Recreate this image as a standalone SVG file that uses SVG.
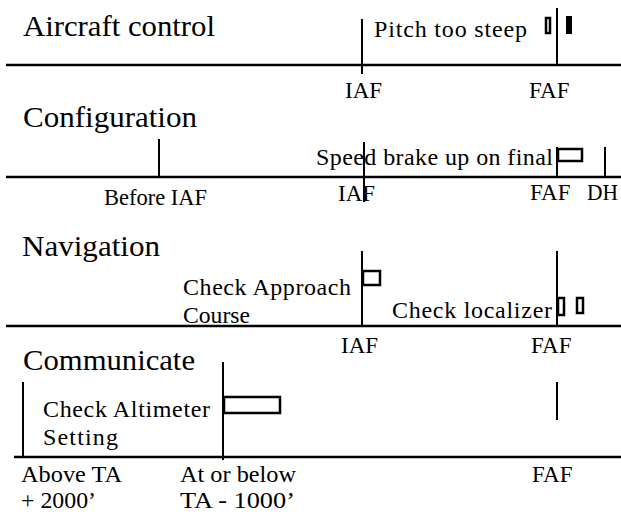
<svg xmlns="http://www.w3.org/2000/svg" width="621" height="516" viewBox="0 0 621 516">
<style>
  text { font-family: "Liberation Serif", "Times New Roman", serif; fill: #000; }
  .title { font-size: 30px; }
  .lbl { font-size: 23px; }
  .note { font-size: 24px; }
  .axis { stroke: #000; stroke-width: 2.5; fill: none; }
  .tick { stroke: #000; stroke-width: 2; fill: none; }
  .box { stroke: #000; stroke-width: 2.5; fill: #fff; }
  .solid { fill: #000; stroke: none; }
</style>
<rect width="621" height="516" fill="#fff"/>

<g id="panel-aircraft-control">
  <text class="title" x="23" y="36" textLength="192" lengthAdjust="spacingAndGlyphs">Aircraft control</text>
  <text class="note" x="374" y="37" textLength="153" lengthAdjust="spacing">Pitch too steep</text>
  <rect class="box" x="546" y="18" width="4" height="15"/>
  <rect class="solid" x="566" y="16" width="6" height="18"/>
  <text class="lbl" x="345" y="98">IAF</text>
  <text class="lbl" x="529" y="98">FAF</text>
</g>

<g id="panel-configuration">
  <text class="title" x="23" y="127" textLength="174" lengthAdjust="spacingAndGlyphs">Configuration</text>
  <text class="note" x="316" y="165" textLength="237" lengthAdjust="spacing">Speed brake up on final</text>
  <rect class="box" x="558" y="149" width="24" height="12"/>
  <text class="lbl" x="104" y="205" textLength="103" lengthAdjust="spacingAndGlyphs">Before IAF</text>
  <text class="lbl" x="338" y="201">IAF</text>
  <text class="lbl" x="530" y="200">FAF</text>
  <text class="lbl" x="587" y="200" textLength="31" lengthAdjust="spacingAndGlyphs">DH</text>
</g>

<g id="panel-navigation">
  <text class="title" x="22" y="256" textLength="138" lengthAdjust="spacingAndGlyphs">Navigation</text>
  <rect class="box" x="363" y="271" width="17" height="14"/>
  <text class="note" x="183" y="295" textLength="168" lengthAdjust="spacing">Check Approach</text>
  <text class="note" x="183" y="323" textLength="67" lengthAdjust="spacingAndGlyphs">Course</text>
  <text class="note" x="392" y="318" textLength="160" lengthAdjust="spacing">Check localizer</text>
  <rect class="box" x="558" y="298" width="6" height="17"/>
  <rect class="box" x="577" y="298" width="6" height="15"/>
  <text class="lbl" x="341" y="353">IAF</text>
  <text class="lbl" x="531" y="353">FAF</text>
</g>

<g id="panel-communicate">
  <text class="title" x="23" y="370" textLength="172" lengthAdjust="spacingAndGlyphs">Communicate</text>
  <text class="note" x="43" y="417" textLength="167" lengthAdjust="spacing">Check Altimeter</text>
  <text class="note" x="43" y="445" textLength="75" lengthAdjust="spacing">Setting</text>
  <rect class="box" x="224" y="397" width="56" height="16"/>
  <text class="lbl" x="21" y="482" textLength="101" lengthAdjust="spacingAndGlyphs">Above TA</text>
  <text class="lbl" x="21" y="508" textLength="75" lengthAdjust="spacingAndGlyphs">+ 2000’</text>
  <text class="lbl" x="180" y="482" textLength="116" lengthAdjust="spacingAndGlyphs">At or below</text>
  <text class="lbl" x="180" y="508" textLength="115" lengthAdjust="spacingAndGlyphs">TA - 1000’</text>
  <text class="lbl" x="532" y="482">FAF</text>
</g>

<g id="connectors">
  <line class="axis" x1="6" y1="65" x2="621" y2="65"/>
  <line class="tick" x1="362" y1="19" x2="362" y2="74"/>
  <line class="tick" x1="557" y1="8" x2="557" y2="66"/>

  <line class="axis" x1="6" y1="177" x2="621" y2="177"/>
  <line class="tick" x1="159" y1="139" x2="159" y2="177"/>
  <line class="tick" x1="364" y1="142" x2="364" y2="202"/>
  <line class="tick" x1="557" y1="147" x2="557" y2="177"/>
  <line class="tick" x1="605" y1="147" x2="605" y2="177"/>

  <line class="axis" x1="6" y1="326" x2="621" y2="326"/>
  <line class="tick" x1="362" y1="251" x2="362" y2="326"/>
  <line class="tick" x1="557" y1="251" x2="557" y2="326"/>

  <line class="axis" x1="14" y1="457" x2="621" y2="457"/>
  <line class="tick" x1="23" y1="382" x2="23" y2="457"/>
  <line class="tick" x1="223" y1="362" x2="223" y2="460"/>
  <line class="tick" x1="557" y1="382" x2="557" y2="420"/>
</g>
</svg>
